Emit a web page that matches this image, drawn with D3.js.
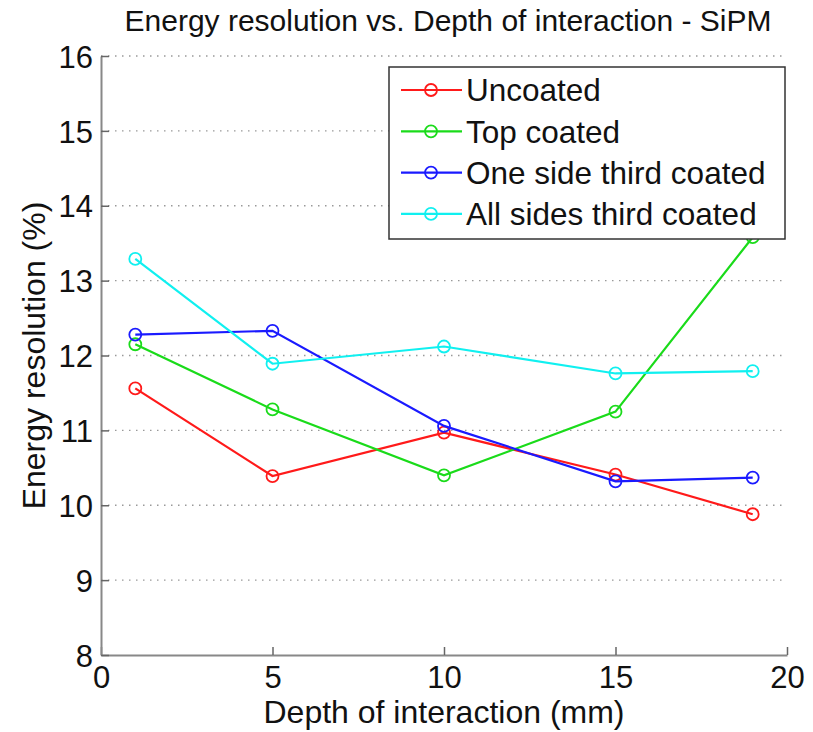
<!DOCTYPE html>
<html>
<head>
    <meta charset="utf-8">
    <title>Energy resolution vs. Depth of interaction</title>
    <script src="https://d3js.org/d3.v7.min.js"></script>
    <style>
        body { margin: 0; background: #fff; }
        text { font-family: "Liberation Sans", Arial, sans-serif; fill: #111; }
    </style>
</head>
<body>
    <script>
        // depth of interaction (mm)
        const depth = [1, 5, 10, 15, 19];

        // energy resolution (%) per crystal type
        const uncoated = [11.56, 10.39, 10.97, 10.41, 9.88];
        const topCoated = [12.15, 11.28, 10.40, 11.25, 13.58];
        const oneSide = [12.28, 12.33, 11.06, 10.32, 10.37];
        const allSides = [13.29, 11.89, 12.12, 11.76, 11.79];

        const seriesNames = ["Uncoated", "Top coated", "One side third coated", "All sides third coated"];
        const seriesColors = ["#ff1a1a", "#1adb1a", "#1a1aff", "#10f0f0"];
        const seriesValues = [uncoated, topCoated, oneSide, allSides];

        const xTicks = [0, 5, 10, 15, 20];
        const yTicks = [8, 9, 10, 11, 12, 13, 14, 15, 16];

        const width = 813;
        const height = 732;
        const margin = { top: 56, right: 26, bottom: 77, left: 101 };

        const svg = d3.select("body")
            .append("svg")
            .attr("width", width)
            .attr("height", height);

        const xScale = d3.scaleLinear()
            .domain([0, 20])
            .range([margin.left, width - margin.right]);

        const yScale = d3.scaleLinear()
            .domain([8, 16])
            .range([height - margin.bottom, margin.top]);

        // dotted grid
        svg.append("g")
            .selectAll("line")
            .data(yTicks.slice(1))
            .enter()
            .append("line")
            .attr("x1", margin.left)
            .attr("x2", width - margin.right)
            .attr("y1", (d) => yScale(d))
            .attr("y2", (d) => yScale(d))
            .attr("stroke", "#999")
            .attr("stroke-width", 1.3)
            .attr("stroke-dasharray", "1.5,5.5");

        // axes (inward ticks, no box)
        const xAxis = svg.append("g")
            .attr("transform", `translate(0,${yScale(8)})`)
            .call(d3.axisBottom(xScale).tickValues(xTicks).tickSizeInner(-8).tickSizeOuter(0).tickPadding(11));

        const yAxis = svg.append("g")
            .attr("transform", `translate(${margin.left},0)`)
            .call(d3.axisLeft(yScale).tickValues(yTicks).tickSizeInner(-8).tickSizeOuter(0).tickPadding(8));

        [xAxis, yAxis].forEach((ax) => {
            ax.select(".domain").attr("stroke", "#888").attr("stroke-width", 2);
            ax.selectAll(".tick line").attr("stroke", "#666").attr("stroke-width", 1.5);
            ax.selectAll(".tick text")
                .attr("font-size", 31)
                .attr("font-family", "Liberation Sans, Arial, sans-serif")
                .attr("fill", "#111");
        });
        xAxis.selectAll(".tick text").attr("dy", "0.71em");
        yAxis.selectAll(".tick text").attr("dy", "0.36em");

        // lines and markers
        const line = d3.line()
            .x((d, i) => xScale(depth[i]))
            .y((d) => yScale(d));

        seriesValues.forEach((vals, s) => {
            svg.append("path")
                .datum(vals)
                .attr("fill", "none")
                .attr("stroke", seriesColors[s])
                .attr("stroke-width", 2.2)
                .attr("d", line);

            svg.append("g")
                .selectAll("circle")
                .data(vals)
                .enter()
                .append("circle")
                .attr("cx", (d, i) => xScale(depth[i]))
                .attr("cy", (d) => yScale(d))
                .attr("r", 6)
                .attr("fill", "none")
                .attr("stroke", seriesColors[s])
                .attr("stroke-width", 1.8);
        });

        // title and axis labels
        svg.append("text")
            .attr("x", 448)
            .attr("y", 31)
            .attr("text-anchor", "middle")
            .attr("font-size", 30)
            .text("Energy resolution vs. Depth of interaction - SiPM");

        svg.append("text")
            .attr("x", 444)
            .attr("y", 723)
            .attr("text-anchor", "middle")
            .attr("font-size", 32)
            .text("Depth of interaction (mm)");

        svg.append("text")
            .attr("transform", `translate(45,${(margin.top + height - margin.bottom) / 2}) rotate(-90)`)
            .attr("text-anchor", "middle")
            .attr("font-size", 32)
            .text("Energy resolution (%)");

        // legend
        const legend = svg.append("g").attr("transform", "translate(389,67)");
        legend.append("rect")
            .attr("width", 396)
            .attr("height", 172)
            .attr("fill", "#fff")
            .attr("stroke", "#333")
            .attr("stroke-width", 1.5);

        const items = legend.selectAll(".legend")
            .data(seriesNames)
            .enter()
            .append("g")
            .attr("class", "legend")
            .attr("transform", (d, i) => `translate(0,${23 + i * 41.3})`);

        items.append("line")
            .attr("x1", 12)
            .attr("x2", 73)
            .attr("stroke", (d, i) => seriesColors[i])
            .attr("stroke-width", 2.2);

        items.append("circle")
            .attr("cx", 42)
            .attr("r", 6)
            .attr("fill", "none")
            .attr("stroke", (d, i) => seriesColors[i])
            .attr("stroke-width", 1.8);

        items.append("text")
            .attr("x", 77)
            .attr("dy", "0.36em")
            .attr("font-size", 31.5)
            .text((d) => d);
    </script>
</body>
</html>
